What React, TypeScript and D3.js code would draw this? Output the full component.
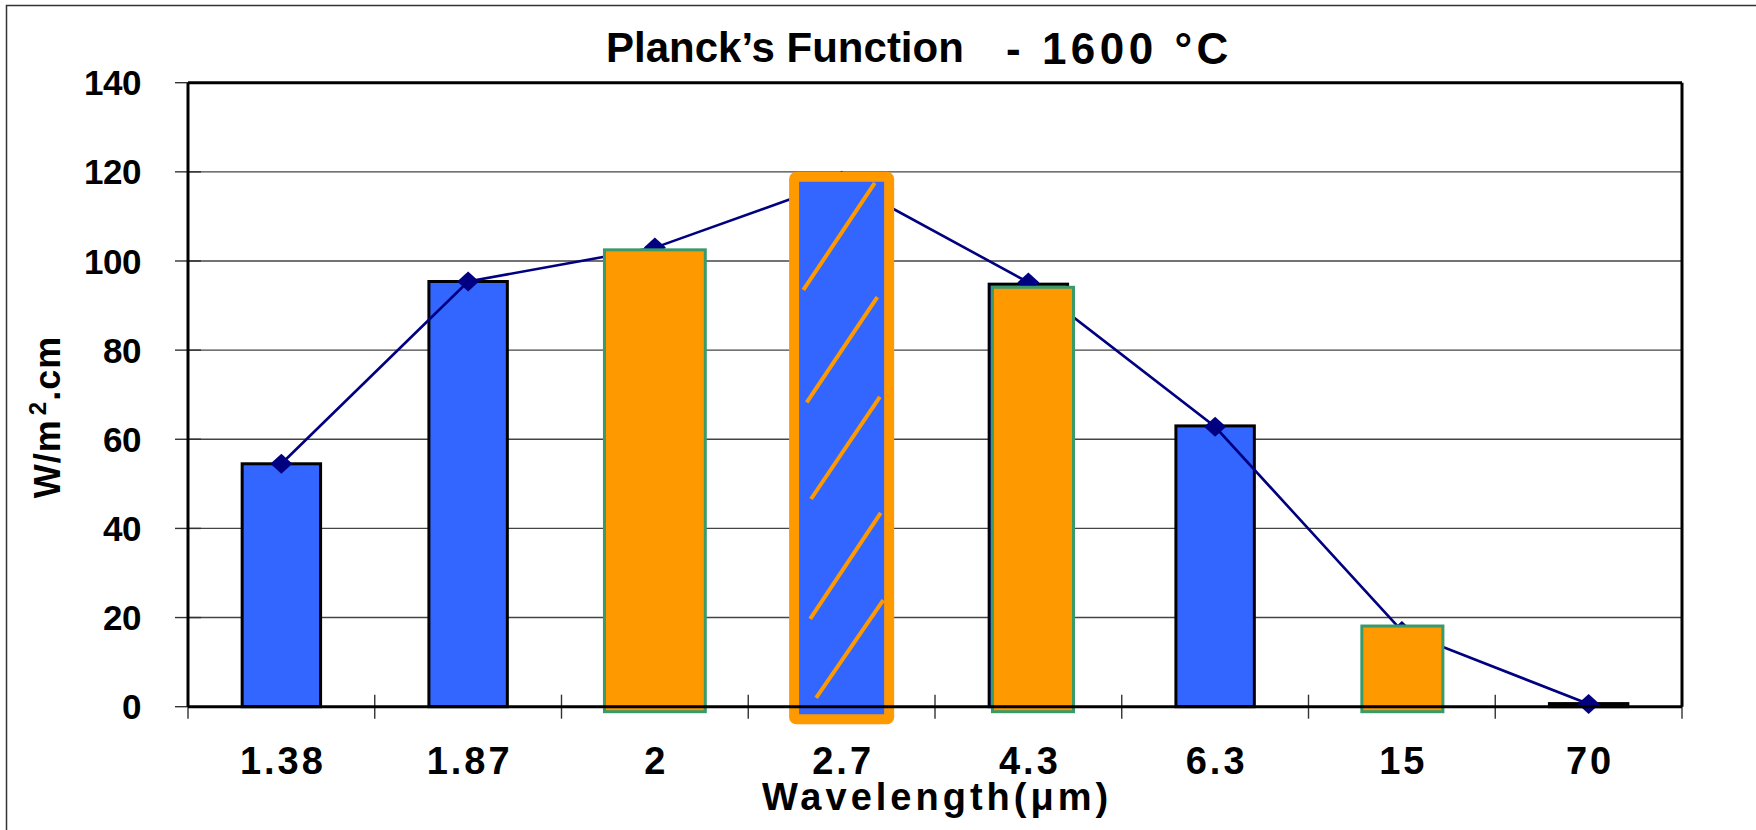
import React from "react";
import * as d3 from "d3";

// wavelength categories and Planck values (W/m².cm) at 1600 °C
const categories = ["1.38", "1.87", "2", "2.7", "4.3", "6.3", "15", "70"];
const barValues = [54.5, 95.4, 102.5, 120.0, 94.8, 63.0, 18.1, 0.7];
const lineValues = [54.5, 95.4, 103.0, 118.0, 95.2, 62.8, 17.0, 0.6];
const highlightCats = ["2", "4.3", "15"];
const highlightValues = [102.5, 94.1, 18.1];
const peakCat = "2.7";
const yTicks = [0, 20, 40, 60, 80, 100, 120, 140];

// hatch strokes inside the peak bar: [x0 frac, y0 value, x1 frac, y1 value]
const hatch = [
  [0.05, 93.5, 0.89, 117.5],
  [0.09, 68.3, 0.92, 91.9],
  [0.14, 46.6, 0.95, 69.5],
  [0.13, 19.7, 0.96, 43.5],
  [0.2, 2.0, 0.99, 23.9],
];

// width (fraction of band) and x offset for the orange overlays
const highlightStyle: Record<string, { w: number; dx: number }> = {
  "2": { w: 0.54, dx: 0 },
  "4.3": { w: 0.434, dx: 4.6 },
  "15": { w: 0.434, dx: 0.5 },
};

const W = 1756;
const H = 830;
const plot = { left: 188, right: 1682, top: 82.7, bottom: 706.7 };

const BLUE = "#3366FF";
const ORANGE = "#FF9900";
const GREEN = "#3A9A6A";
const NAVY = "#000080";
const FONT = "'Liberation Sans', Arial, sans-serif";

const App = () => {
  const x = d3
    .scaleBand()
    .domain(categories)
    .range([plot.left, plot.right])
    .paddingInner(0)
    .paddingOuter(0);
  const y = d3.scaleLinear().domain([0, 140]).range([plot.bottom, plot.top]);
  const bw = x.bandwidth();
  const cx = (c: string) => (x(c) as number) + bw / 2;

  const line = d3
    .line<number>()
    .x((_, i) => cx(categories[i]))
    .y((d) => y(d));

  const blueW = bw * 0.42;
  const peakIdx = categories.indexOf(peakCat);
  const peakW = bw * 0.5625;
  const peakInnerL = cx(peakCat) - peakW / 2 + 10;
  const peakInnerW = peakW - 20;

  const boundaries = d3.range(categories.length + 1).map((i) => plot.left + i * bw);

  return (
    <svg
      width={W}
      height={H}
      style={{ position: "absolute", left: 0, top: 0, background: "#fff" }}
    >
      {/* outer frame */}
      <rect x={6.5} y={5.5} width={W + 20} height={H + 20} fill="none" stroke="#333" strokeWidth={1.5} />

      {/* gridlines */}
      {yTicks.slice(1, -1).map((t) => (
        <line key={t} x1={plot.left} x2={plot.right} y1={y(t)} y2={y(t)} stroke="#444" strokeWidth={1.4} />
      ))}

      {/* y ticks */}
      {yTicks.map((t) => (
        <line key={t} x1={175} x2={201} y1={y(t)} y2={y(t)} stroke="#333" strokeWidth={1.4} />
      ))}

      {/* x ticks */}
      {boundaries.map((b, i) => (
        <line key={i} x1={b} x2={b} y1={plot.bottom - 12} y2={plot.bottom + 12} stroke="#333" strokeWidth={1.4} />
      ))}

      {/* base bars */}
      {categories.map((c, i) =>
        (highlightCats.includes(c) && c !== "4.3") || c === peakCat ? null : (
          <rect
            key={c}
            x={cx(c) - blueW / 2}
            y={y(barValues[i])}
            width={blueW}
            height={plot.bottom - y(barValues[i])}
            fill={BLUE}
            stroke="#000"
            strokeWidth={3}
          />
        )
      )}

      {/* line series */}
      <path d={line(lineValues) || ""} fill="none" stroke={NAVY} strokeWidth={2.6} />
      {lineValues.map((v, i) => {
        const px = cx(categories[i]);
        const py = y(v);
        return (
          <path
            key={i}
            d={`M${px},${py - 10}L${px + 11},${py}L${px},${py + 10}L${px - 11},${py}Z`}
            fill={NAVY}
          />
        );
      })}

      {/* orange highlight bars */}
      {highlightCats.map((c, i) => {
        const s = highlightStyle[c];
        const w = bw * s.w;
        return (
          <rect
            key={c}
            x={cx(c) - w / 2 + s.dx}
            y={y(highlightValues[i])}
            width={w}
            height={plot.bottom + 5 - y(highlightValues[i])}
            fill={ORANGE}
            stroke={GREEN}
            strokeWidth={3}
          />
        );
      })}

      {/* peak bar with thick orange frame and hatch */}
      <rect
        x={cx(peakCat) - peakW / 2 + 5}
        y={y(barValues[peakIdx]) + 5}
        width={peakW - 10}
        height={plot.bottom + 7.5 - y(barValues[peakIdx])}
        fill={BLUE}
        stroke={ORANGE}
        strokeWidth={10}
        rx={2}
        strokeLinejoin="round"
      />
      {hatch.map((h, i) => (
        <line
          key={i}
          x1={peakInnerL + h[0] * peakInnerW}
          y1={y(h[1])}
          x2={peakInnerL + h[2] * peakInnerW}
          y2={y(h[3])}
          stroke={ORANGE}
          strokeWidth={4}
        />
      ))}

      {/* plot border */}
      <line x1={plot.left} x2={plot.right} y1={plot.top} y2={plot.top} stroke="#000" strokeWidth={3} />
      <line x1={plot.right} x2={plot.right} y1={plot.top} y2={plot.bottom} stroke="#000" strokeWidth={3} />
      <line x1={plot.left} x2={plot.left} y1={plot.top} y2={plot.bottom} stroke="#000" strokeWidth={3} />
      <line x1={plot.left} x2={plot.right} y1={plot.bottom} y2={plot.bottom} stroke="#000" strokeWidth={3} />

      {/* y labels */}
      {yTicks.map((t) => (
        <text
          key={t}
          x={141}
          y={y(t)}
          dy="0.36em"
          textAnchor="end"
          fontFamily={FONT}
          fontWeight="bold"
          fontSize={35}
          letterSpacing={-0.5}
        >
          {t}
        </text>
      ))}

      {/* x labels */}
      {categories.map((c) => (
        <text
          key={c}
          x={cx(c) + 1.5}
          y={774}
          textAnchor="middle"
          fontFamily={FONT}
          fontWeight="bold"
          fontSize={38}
          letterSpacing={3}
        >
          {c}
        </text>
      ))}

      {/* axis titles */}
      <text
        x={(plot.left + plot.right) / 2 + 2}
        y={810}
        textAnchor="middle"
        fontFamily={FONT}
        fontWeight="bold"
        fontSize={38}
        letterSpacing={4}
      >
        Wavelength(μm)
      </text>
      <text
        transform="translate(60,417) rotate(-90)"
        textAnchor="middle"
        fontFamily={FONT}
        fontWeight="bold"
        fontSize={36}
        letterSpacing={1}
      >
        W/m
        <tspan dx={4} dy={-14} fontSize={24}>
          2
        </tspan>
        <tspan dy={14}>.cm</tspan>
      </text>

      {/* chart title */}
      <text x={606} y={62} fontFamily={FONT} fontWeight="bold" fontSize={42}>
        Planck’s Function
      </text>
      <text x={1006} y={64} fontFamily={FONT} fontWeight="bold" fontSize={44} letterSpacing={4.5}>
        - 1600 °C
      </text>
    </svg>
  );
};

export default App;
